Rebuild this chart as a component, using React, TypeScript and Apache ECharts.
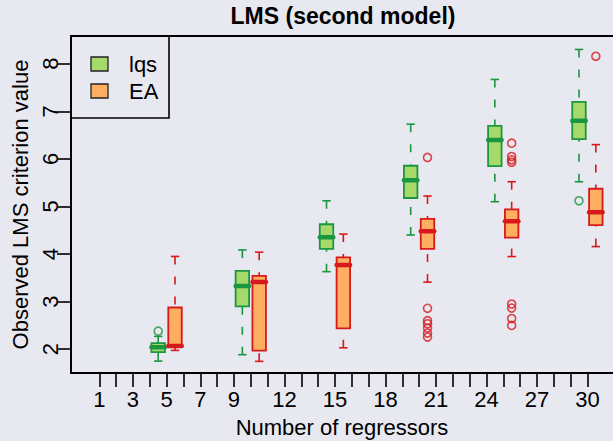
import { useEffect, useRef } from "react";
import * as echarts from "echarts";

// Number of regressors in each experiment
const regressors = [5, 10, 15, 20, 25, 30];

// Five-number summaries: [lower whisker, Q1, median, Q3, upper whisker]
const lqsStats = [
  [1.75, 1.94, 2.04, 2.13, 2.27],
  [1.885, 2.9, 3.326, 3.647, 4.087],
  [3.63, 4.108, 4.354, 4.626, 5.12],
  [4.4, 5.178, 5.55, 5.856, 6.73],
  [5.1, 5.85, 6.395, 6.695, 7.67],
  [5.52, 6.416, 6.8, 7.2, 8.3],
];
const eaStats = [
  [1.975, 2.05, 2.07, 2.877, 3.95],
  [1.745, 1.97, 3.41, 3.54, 4.04],
  [2.03, 2.44, 3.77, 3.93, 4.42],
  [3.41, 4.11, 4.48, 4.74, 5.22],
  [3.947, 4.345, 4.69, 4.94, 5.52],
  [4.157, 4.61, 4.878, 5.373, 6.3],
];

// Outlying values per group
const lqsOutliers = [[2.38], [], [], [], [], [5.12]];
const eaOutliers = [
  [],
  [],
  [],
  [6.03, 2.86, 2.6, 2.535, 2.445, 2.34, 2.256],
  [6.33, 6.05, 5.98, 5.93, 2.95, 2.864, 2.645, 2.5],
  [8.157],
];

const xTicks = [
  1, 2, 3, 4, 5, 6, 7, 8, 9, 10, 11, 12, 13, 14, 15, 16, 17, 18, 19, 20, 21,
  22, 23, 24, 25, 26, 27, 28, 29, 30,
];
const xTickLabels = [1, 3, 5, 7, 9, 12, 15, 18, 21, 24, 27, 30];
const yTicks = [2, 3, 4, 5, 6, 7, 8];

const FONT = '"Liberation Sans", Arial, Helvetica, sans-serif';
const BG = "#E8E8F0";
const GREEN_FILL = "#A6D96A";
const GREEN = "#1A9641";
const ORANGE_FILL = "#FDAE61";
const RED = "#D7191C";
const BOX_WIDTH = 0.8;
const STAPLE_WIDTH = 0.5;

function boxSeries(
  name: string,
  stats: number[][],
  offset: number,
  fill: string,
  stroke: string
) {
  return {
    type: "custom",
    name,
    data: stats.map((s, i) => [regressors[i] + offset, ...s]),
    encode: { x: 0, y: [1, 2, 3, 4, 5] },
    z: 3,
    renderItem: (_params: any, api: any) => {
      const x = api.value(0);
      const [lo, q1, med, q3, hi] = [1, 2, 3, 4, 5].map((d) =>
        api.coord([x, api.value(d)])
      );
      const cx = lo[0];
      const bw = api.size([BOX_WIDTH, 0])[0];
      const sw = api.size([STAPLE_WIDTH, 0])[0];
      const whisker = { stroke, lineWidth: 1.6, lineDash: [8, 12] };
      const staple = { stroke, lineWidth: 1.6 };
      return {
        type: "group",
        children: [
          { type: "line", shape: { x1: cx, y1: hi[1], x2: cx, y2: q3[1] }, style: whisker },
          { type: "line", shape: { x1: cx, y1: lo[1], x2: cx, y2: q1[1] }, style: whisker },
          { type: "line", shape: { x1: cx - sw / 2, y1: hi[1], x2: cx + sw / 2, y2: hi[1] }, style: staple },
          { type: "line", shape: { x1: cx - sw / 2, y1: lo[1], x2: cx + sw / 2, y2: lo[1] }, style: staple },
          {
            type: "rect",
            shape: { x: cx - bw / 2, y: q3[1], width: bw, height: q1[1] - q3[1] },
            style: { fill, stroke, lineWidth: 1.8 },
          },
          {
            type: "line",
            shape: { x1: cx - bw / 2, y1: med[1], x2: cx + bw / 2, y2: med[1] },
            style: { stroke, lineWidth: 4.5, lineCap: "round" },
          },
        ],
      };
    },
  };
}

function outlierSeries(name: string, groups: number[][], offset: number, stroke: string) {
  const pts: number[][] = [];
  groups.forEach((vals, i) => vals.forEach((v) => pts.push([regressors[i] + offset, v])));
  return {
    type: "scatter",
    name,
    data: pts,
    symbol: "circle",
    symbolSize: 8,
    z: 4,
    itemStyle: { color: "rgba(0,0,0,0)", borderColor: stroke, borderWidth: 1.6 },
  };
}

export default function App() {
  const ref = useRef<HTMLDivElement>(null);

  useEffect(() => {
    if (!ref.current) return;
    const chart = echarts.init(ref.current, null, { renderer: "svg" });
    const axisText = { fontFamily: FONT, fontSize: 22, color: "#000" };
    chart.setOption({
      animation: false,
      backgroundColor: BG,
      grid: {
        left: 71,
        right: 0,
        top: 36,
        bottom: 68,
        show: false,
        containLabel: false,
        outerBoundsMode: "none",
      },
      xAxis: [
        {
          type: "value",
          min: -0.68,
          max: 31.52,
          name: "Number of regressors",
          nameLocation: "middle",
          nameGap: 43,
          nameTextStyle: { ...axisText, lineHeight: 22 },
          axisLine: { show: true, onZero: false, lineStyle: { color: "#000", width: 2 } },
          axisTick: { show: true, customValues: xTicks, length: 14, lineStyle: { color: "#000", width: 1.6 } },
          axisLabel: { customValues: xTickLabels, margin: 15, ...axisText },
          splitLine: { show: false },
        },
        {
          type: "value",
          position: "top",
          min: -0.68,
          max: 31.52,
          axisLine: { show: true, onZero: false, lineStyle: { color: "#000", width: 2 } },
          axisTick: { show: false },
          axisLabel: { show: false },
          splitLine: { show: false },
        },
      ],
      yAxis: {
        type: "value",
        min: 1.5,
        max: 8.583,
        name: "Observed LMS criterion value",
        nameLocation: "middle",
        nameGap: 29,
        nameRotate: 90,
        nameTextStyle: axisText,
        axisLine: { show: true, onZero: false, lineStyle: { color: "#000", width: 2 } },
        axisTick: { show: true, customValues: yTicks, length: 14, lineStyle: { color: "#000", width: 1.6 } },
        axisLabel: { customValues: yTicks, rotate: 90, margin: 10, ...axisText },
        splitLine: { show: false },
      },
      series: [
        boxSeries("lqs", lqsStats, -0.5, GREEN_FILL, GREEN),
        boxSeries("EA", eaStats, 0.5, ORANGE_FILL, RED),
        outlierSeries("lqs outliers", lqsOutliers, -0.5, GREEN),
        outlierSeries("EA outliers", eaOutliers, 0.5, RED),
      ],
      graphic: [
        {
          type: "text",
          x: 343,
          y: 16,
          style: {
            text: "LMS (second model)",
            font: `bold 23px ${FONT}`,
            fill: "#000",
            textAlign: "center",
            textVerticalAlign: "middle",
          },
        },
        {
          type: "group",
          z: 10,
          children: [
            {
              type: "rect",
              shape: { x: 71, y: 36, width: 98, height: 82 },
              style: { fill: BG, stroke: "#000", lineWidth: 1.6 },
            },
            {
              type: "rect",
              shape: { x: 91, y: 57, width: 17, height: 14 },
              style: { fill: GREEN_FILL, stroke: "#222", lineWidth: 1.3 },
            },
            {
              type: "text",
              x: 129,
              y: 64,
              style: { text: "lqs", font: `22px ${FONT}`, fill: "#000", textVerticalAlign: "middle" },
            },
            {
              type: "rect",
              shape: { x: 91, y: 84, width: 17, height: 14 },
              style: { fill: ORANGE_FILL, stroke: "#222", lineWidth: 1.3 },
            },
            {
              type: "text",
              x: 129,
              y: 91,
              style: { text: "EA", font: `22px ${FONT}`, fill: "#000", textVerticalAlign: "middle" },
            },
          ],
        },
      ],
    });
    return () => chart.dispose();
  }, []);

  return (
    <div
      ref={ref}
      style={{ position: "fixed", left: 0, top: 0, width: 613, height: 441 }}
    />
  );
}
